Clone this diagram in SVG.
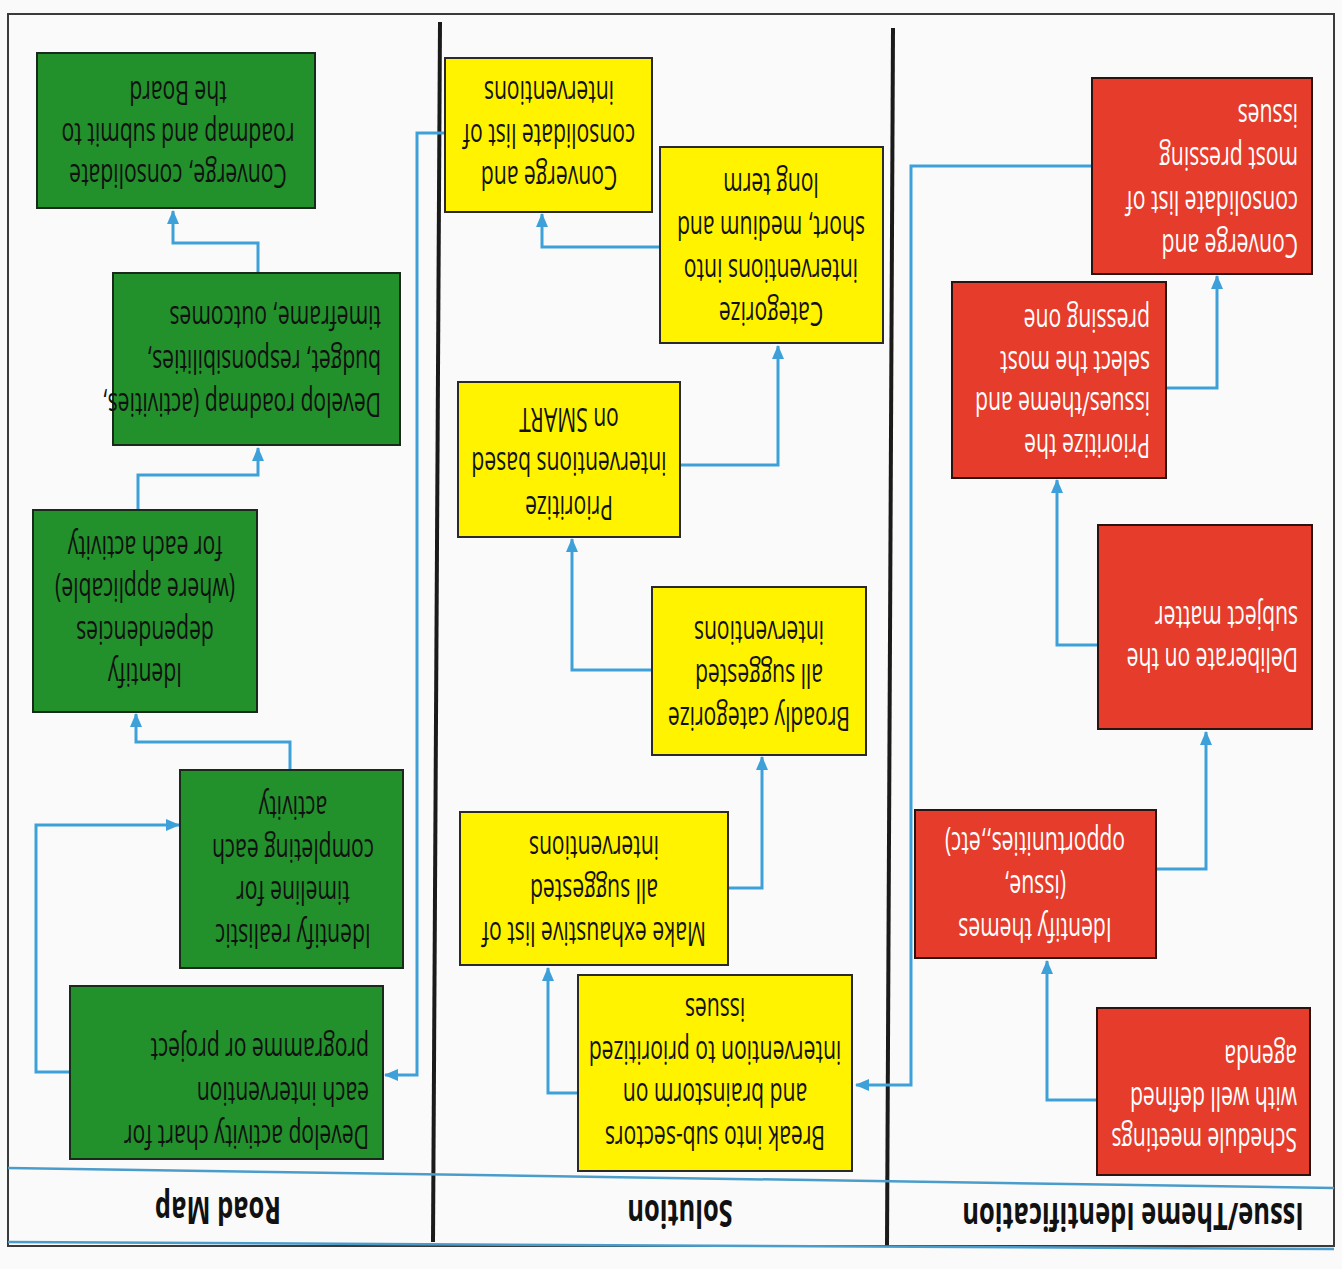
<svg xmlns="http://www.w3.org/2000/svg" width="1342" height="1269" viewBox="0 0 1342 1269">
<defs>
<style>
.bg{fill:#fafafa}
.frame{fill:none;stroke:#3a3a3a;stroke-width:2}
.div{stroke:#1a1a1a;stroke-width:4}
.hline{stroke:#4a9ccb;stroke-width:2.5}
.br{fill:#e63c2b;stroke:#2b1410;stroke-width:2}
.by{fill:#fff300;stroke:#2a2a2a;stroke-width:2}
.bgn{fill:#22902b;stroke:#1a2a1a;stroke-width:2}
.t{font-family:"Open Sans","Noto Sans",sans-serif;font-size:32px}
.tw{fill:#ffffff}
.tk{fill:#111111}
.hdr{font-family:"Open Sans","Noto Sans",sans-serif;font-size:38px;font-weight:bold;fill:#111}
.conn{fill:none;stroke:#3ea0d8;stroke-width:3}
</style>
<marker id="ah" markerUnits="userSpaceOnUse" markerWidth="14" markerHeight="12" refX="13" refY="6" orient="auto">
<path d="M0,0 L14,6 L0,12 z" fill="#3ea0d8"/>
</marker>
</defs>
<rect class="bg" x="0" y="0" width="1342" height="1269"/>
<g id="frame">
<rect class="frame" x="8" y="14" width="1326" height="1232"/>
<line class="div" x1="440" y1="22" x2="433" y2="1242"/>
<line class="div" x1="893" y1="28" x2="887" y2="1246"/>
<line class="hline" x1="8" y1="1168" x2="1334" y2="1188"/>
<line class="hline" x1="8" y1="1242" x2="1334" y2="1249"/>
</g>
<g id="headers">
<text class="hdr" text-anchor="middle" transform="translate(1133,1203) rotate(180) scale(0.67,1)">Issue/Theme Identification</text>
<text class="hdr" text-anchor="middle" transform="translate(680,1200) rotate(180) scale(0.67,1)">Solution</text>
<text class="hdr" text-anchor="middle" transform="translate(218,1197) rotate(180) scale(0.67,1)">Road Map</text>
</g>
<g id="connectors">
<path class="conn" marker-end="url(#ah)" d="M1097,1100 H1047 V961"/>
<path class="conn" marker-end="url(#ah)" d="M1157,869 H1206 V732"/>
<path class="conn" marker-end="url(#ah)" d="M1098,645 H1057 V480"/>
<path class="conn" marker-end="url(#ah)" d="M1092,388 H1217 V276" transform="translate(75,0) translate(-75,0)"/>
<path class="conn" marker-end="url(#ah)" d="M1092,166 H911 V1085 H856"/>
<path class="conn" marker-end="url(#ah)" d="M578,1093 H548 V968"/>
<path class="conn" marker-end="url(#ah)" d="M728,888 H762 V757"/>
<path class="conn" marker-end="url(#ah)" d="M652,670 H572 V539"/>
<path class="conn" marker-end="url(#ah)" d="M680,465 H778 V346"/>
<path class="conn" marker-end="url(#ah)" d="M660,247 H542 V214"/>
<path class="conn" marker-end="url(#ah)" d="M445,133 H417 V1075 H385"/>
<path class="conn" marker-end="url(#ah)" d="M70,1072 H36 V825 H179"/>
<path class="conn" marker-end="url(#ah)" d="M290,770 V742 H136 V714"/>
<path class="conn" marker-end="url(#ah)" d="M138,510 V475 H258 V448"/>
<path class="conn" marker-end="url(#ah)" d="M258,273 V243 H173 V211"/>
</g>
<g id="r1">
<rect class="br" x="1097" y="1008" width="213" height="167"/>
<text class="t tw" transform="translate(1297,1128) rotate(180) scale(0.66,1)"><tspan x="0" y="0">Schedule meetings</tspan><tspan x="0" dy="41.5">with well defined</tspan><tspan x="0" dy="41.5">agenda</tspan></text>
</g>
<g id="r2">
<rect class="br" x="915" y="810" width="241" height="148"/>
<text class="t tw" text-anchor="middle" transform="translate(1035,918) rotate(180) scale(0.66,1)"><tspan x="0" y="0">Identify themes</tspan><tspan x="0" dy="43">(issue,</tspan><tspan x="0" dy="43">opportunities,,etc)</tspan></text>
</g>
<g id="r3">
<rect class="br" x="1098" y="525" width="214" height="204"/>
<text class="t tw" transform="translate(1298,648) rotate(180) scale(0.66,1)"><tspan x="0" y="0">Deliberate on the</tspan><tspan x="0" dy="42">subject matter</tspan></text>
</g>
<g id="r4">
<rect class="br" x="952" y="282" width="214" height="196"/>
<text class="t tw" transform="translate(1150,434) rotate(180) scale(0.66,1)"><tspan x="0" y="0">Prioritize the</tspan><tspan x="0" dy="41.7">issues/theme and</tspan><tspan x="0" dy="41.7">select the most</tspan><tspan x="0" dy="41.7">pressing one</tspan></text>
</g>
<g id="r5">
<rect class="br" x="1092" y="78" width="220" height="196"/>
<text class="t tw" transform="translate(1298,234) rotate(180) scale(0.66,1)"><tspan x="0" y="0">Converge and</tspan><tspan x="0" dy="43.3">consolidate list of</tspan><tspan x="0" dy="43.3">most pressing</tspan><tspan x="0" dy="43.3">issues</tspan></text>
</g>
<g id="y1">
<rect class="by" x="578" y="975" width="274" height="196"/>
<text class="t tk" text-anchor="middle" transform="translate(715,1126) rotate(180) scale(0.66,1)"><tspan x="0" y="0">Break into sub-sectors</tspan><tspan x="0" dy="42.7">and brainstorm on</tspan><tspan x="0" dy="42.7">intervention to prioritized</tspan><tspan x="0" dy="42.7">issues</tspan></text>
</g>
<g id="y2">
<rect class="by" x="460" y="812" width="268" height="153"/>
<text class="t tk" text-anchor="middle" transform="translate(594,922) rotate(180) scale(0.66,1)"><tspan x="0" y="0">Make exhaustive list of</tspan><tspan x="0" dy="43">all suggested</tspan><tspan x="0" dy="43">interventions</tspan></text>
</g>
<g id="y3">
<rect class="by" x="652" y="587" width="214" height="168"/>
<text class="t tk" text-anchor="middle" transform="translate(759,707) rotate(180) scale(0.66,1)"><tspan x="0" y="0">Broadly categorize</tspan><tspan x="0" dy="43">all suggested</tspan><tspan x="0" dy="43">interventions</tspan></text>
</g>
<g id="y4">
<rect class="by" x="458" y="382" width="222" height="155"/>
<text class="t tk" text-anchor="middle" transform="translate(569,496) rotate(180) scale(0.66,1)"><tspan x="0" y="0">Prioritize</tspan><tspan x="0" dy="44">interventions based</tspan><tspan x="0" dy="44">on SMART</tspan></text>
</g>
<g id="y5">
<rect class="by" x="660" y="147" width="223" height="196"/>
<text class="t tk" text-anchor="middle" transform="translate(771,302) rotate(180) scale(0.66,1)"><tspan x="0" y="0">Categorize</tspan><tspan x="0" dy="43">interventions into</tspan><tspan x="0" dy="43">short, medium and</tspan><tspan x="0" dy="43">long term</tspan></text>
</g>
<g id="y6">
<rect class="by" x="445" y="58" width="207" height="154"/>
<text class="t tk" text-anchor="middle" transform="translate(549,166) rotate(180) scale(0.66,1)"><tspan x="0" y="0">Converge and</tspan><tspan x="0" dy="42.5">consolidate list of</tspan><tspan x="0" dy="42.5">interventions</tspan></text>
</g>
<g id="g1">
<rect class="bgn" x="70" y="986" width="313" height="173"/>
<text class="t tk" transform="translate(369,1125) rotate(180) scale(0.66,1)"><tspan x="0" y="0">Develop activity chart for</tspan><tspan x="0" dy="43.5">each intervention</tspan><tspan x="0" dy="43.5">programme or project</tspan></text>
</g>
<g id="g2">
<rect class="bgn" x="180" y="770" width="223" height="198"/>
<text class="t tk" text-anchor="middle" transform="translate(293,924) rotate(180) scale(0.66,1)"><tspan x="0" y="0">Identify realistic</tspan><tspan x="0" dy="42.7">timeline for</tspan><tspan x="0" dy="42.7">completing each</tspan><tspan x="0" dy="42.7">activity</tspan></text>
</g>
<g id="g3">
<rect class="bgn" x="33" y="510" width="224" height="202"/>
<text class="t tk" text-anchor="middle" transform="translate(145,663) rotate(180) scale(0.66,1)"><tspan x="0" y="0">Identify</tspan><tspan x="0" dy="42.3">dependencies</tspan><tspan x="0" dy="42.3">(where applicable)</tspan><tspan x="0" dy="42.3">for each activity</tspan></text>
</g>
<g id="g4">
<rect class="bgn" x="113" y="273" width="287" height="172"/>
<text class="t tk" transform="translate(381,393) rotate(180) scale(0.66,1)"><tspan x="0" y="0">Develop roadmap (activities,</tspan><tspan x="0" dy="43.5">budget, responsibilities,</tspan><tspan x="0" dy="43.5">timeframe, outcomes</tspan></text>
</g>
<g id="g5">
<rect class="bgn" x="37" y="53" width="278" height="155"/>
<text class="t tk" text-anchor="middle" transform="translate(178,164) rotate(180) scale(0.66,1)"><tspan x="0" y="0">Converge, consolidate</tspan><tspan x="0" dy="41.5">roadmap and submit to</tspan><tspan x="0" dy="41.5">the Board</tspan></text>
</g>
</svg>
